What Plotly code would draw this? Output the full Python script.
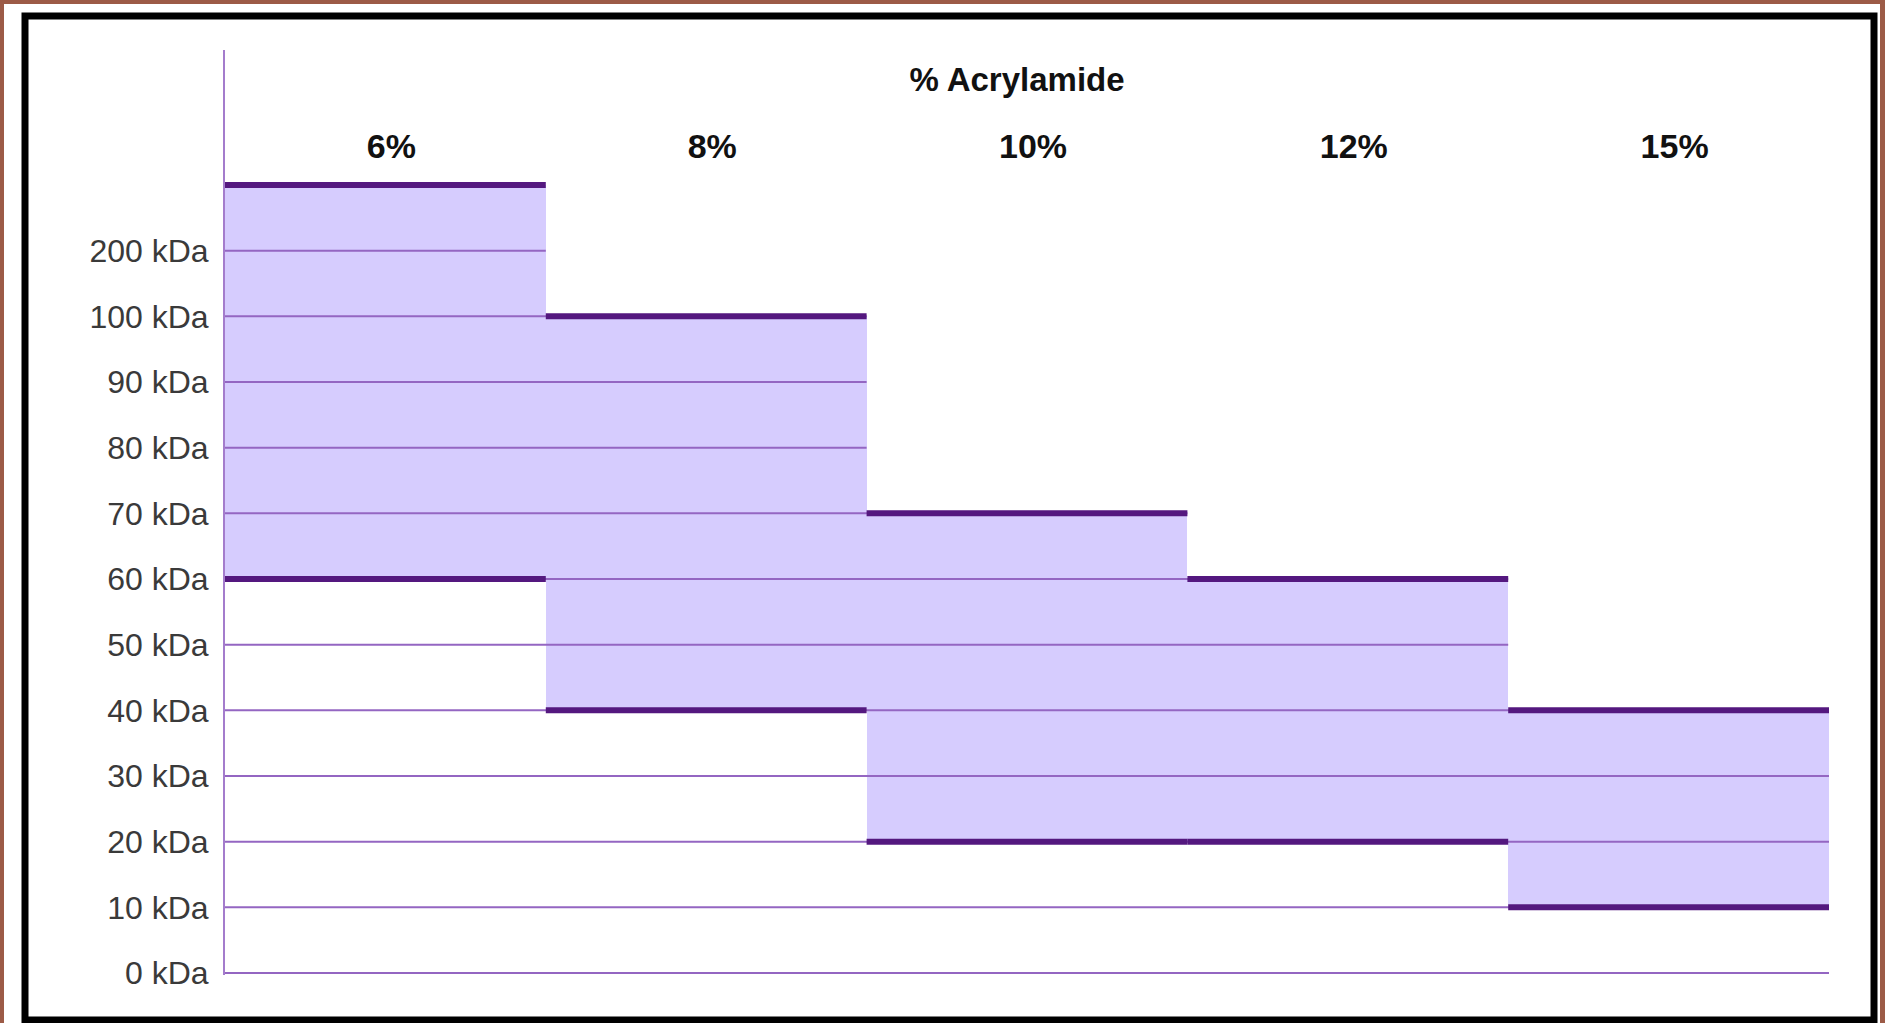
import plotly.graph_objects as go

# ---- data ----
categories = ["6%", "8%", "10%", "12%", "15%"]
level_labels = ["0 kDa", "10 kDa", "20 kDa", "30 kDa", "40 kDa", "50 kDa", "60 kDa",
                "70 kDa", "80 kDa", "90 kDa", "100 kDa", "200 kDa", ""]
range_low = [6, 4, 2, 2, 1]      # index into level_labels
range_high = [12, 10, 7, 6, 4]   # index into level_labels (12 = above 200 kDa)
title_text = "% Acrylamide"

# ---- styles ----
FILL = "#d6ccfe"
THICK = "#54187f"
GRID = "#9466c2"
AXIS = "#a47ccc"
BROWN = "#9c5b47"
W, H = 1885, 1023
L, R, T, B = 225, 1829, 50, 975

def px_x(p):
    return (p - L) / (R - L)

def px_y(p):
    return (B - p) / (B - T)

n = len(categories)
xs = list(range(n))
fig = go.Figure()

# filled ranges
fig.add_trace(go.Bar(
    x=xs, base=range_low,
    y=[h - l for h, l in zip(range_high, range_low)],
    width=1.0, marker=dict(color=FILL, line=dict(width=0)),
    hoverinfo="skip", showlegend=False))

# gridlines, extending to the last column that reaches each level
for lev in range(len(level_labels) - 1):
    last = max(j for j in range(n) if range_high[j] >= lev)
    fig.add_trace(go.Scatter(
        x=[-0.5, last + 0.5], y=[lev, lev], mode="lines",
        line=dict(color=GRID, width=2), hoverinfo="skip", showlegend=False))

# thick bounds
for j in range(n):
    for lev in (range_low[j], range_high[j]):
        fig.add_trace(go.Scatter(
            x=[j - 0.5, j + 0.5], y=[lev, lev], mode="lines",
            line=dict(color=THICK, width=6), hoverinfo="skip", showlegend=False))

unit = (973 - 185) / 12.0
y0 = -(B - 973) / unit
y1 = (973 - T) / unit

fig.update_layout(
    width=W, height=H,
    margin=dict(l=L, r=W - R, t=T, b=H - B),
    paper_bgcolor=BROWN,
    plot_bgcolor="rgba(0,0,0,0)",
    bargap=0,
    title=dict(text="<b>" + title_text + "</b>", x=1017 / W, xanchor="center",
               y=1 - 79 / H, yanchor="middle",
               font=dict(family="Liberation Sans", size=33, color="#111111")),
    xaxis=dict(range=[-0.5, 4.5], side="top", anchor="free", position=px_y(165),
               tickvals=xs, ticktext=["<b>" + c + "</b>" for c in categories],
               tickfont=dict(family="Liberation Sans", size=34, color="#111111"),
               ticklabelshift=6,
               showgrid=False, zeroline=False, showline=False, ticks=""),
    yaxis=dict(range=[y0, y1], tickvals=list(range(len(level_labels) - 1)),
               ticktext=level_labels[:-1],
               tickfont=dict(family="Liberation Sans", size=32, color="#3a3a3a"),
               showgrid=False, zeroline=False, showline=True, linecolor=AXIS,
               linewidth=2, ticks="", ticklabelstandoff=8),
    shapes=[
        dict(type="rect", xref="paper", yref="paper", layer="below",
             x0=px_x(4), x1=px_x(1880), y0=px_y(H + 10), y1=px_y(4),
             fillcolor="white", line=dict(width=0)),
        dict(type="rect", xref="paper", yref="paper", layer="below",
             x0=px_x(25), x1=px_x(1874), y0=px_y(1020), y1=px_y(16),
             fillcolor="white", line=dict(color="black", width=7)),
    ],
)

fig.write_html(
    "out.html",
    config={"displayModeBar": False},
    post_script="document.body.style.margin='0';document.body.style.overflow='hidden';"
                "document.body.style.background='" + BROWN + "';",
)
